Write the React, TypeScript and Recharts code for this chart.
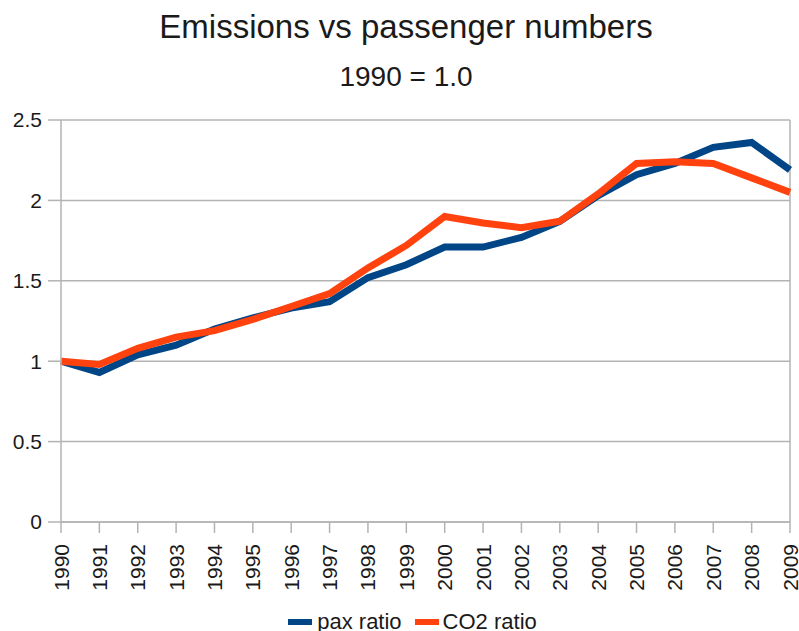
import React from 'react';
import {
  LineChart,
  Line,
  XAxis,
  YAxis,
  CartesianGrid,
  Legend,
  ReferenceLine,
} from 'recharts';

const years = [
  '1990', '1991', '1992', '1993', '1994', '1995', '1996', '1997', '1998', '1999',
  '2000', '2001', '2002', '2003', '2004', '2005', '2006', '2007', '2008', '2009',
];

const paxRatio = [
  1.0, 0.93, 1.04, 1.1, 1.2, 1.27, 1.33, 1.37, 1.52, 1.6,
  1.71, 1.71, 1.77, 1.87, 2.03, 2.16, 2.23, 2.33, 2.36, 2.19,
];

const co2Ratio = [
  1.0, 0.98, 1.08, 1.15, 1.19, 1.26, 1.34, 1.42, 1.58, 1.72,
  1.9, 1.86, 1.83, 1.87, 2.04, 2.23, 2.24, 2.23, 2.14, 2.05,
];

const yTicks = [0, 0.5, 1, 1.5, 2, 2.5];

const data = years.map((year, i) => ({
  year,
  pax: paxRatio[i],
  co2: co2Ratio[i],
}));

const FONT = '"Liberation Sans", Arial, sans-serif';
const PAX_COLOR = '#004586';
const CO2_COLOR = '#ff420e';
const GRID_COLOR = '#b3b3b3';
const TEXT_COLOR = '#1a1a1a';

const YearTick = (props: any) => {
  const { x, y, payload } = props;
  return (
    <text
      x={x}
      y={y + 9}
      transform={`rotate(-90, ${x}, ${y + 9})`}
      textAnchor="end"
      dominantBaseline="central"
      fontSize={21}
      fontFamily={FONT}
      fill={TEXT_COLOR}
    >
      {payload.value}
    </text>
  );
};

const LegendContent = () => (
  <div
    style={{
      display: 'flex',
      justifyContent: 'center',
      alignItems: 'center',
      fontFamily: FONT,
      fontSize: 22,
      color: TEXT_COLOR,
      height: 30,
      paddingLeft: 26,
    }}
  >
    <span style={{ width: 24, height: 6, background: PAX_COLOR, marginRight: 5 }} />
    <span style={{ marginRight: 13 }}>pax ratio</span>
    <span style={{ width: 24, height: 6, background: CO2_COLOR, marginRight: 4 }} />
    <span>CO2 ratio</span>
  </div>
);

export default function App() {
  return (
    <div
      style={{
        position: 'absolute',
        left: 0,
        top: 0,
        width: 799,
        height: 631,
        background: '#fff',
        overflow: 'hidden',
      }}
    >
      <div
        style={{
          position: 'absolute',
          left: 0,
          width: 812,
          top: 8,
          textAlign: 'center',
          fontFamily: FONT,
          fontSize: 33,
          color: TEXT_COLOR,
        }}
      >
        Emissions vs passenger numbers
      </div>
      <div
        style={{
          position: 'absolute',
          left: 0,
          width: 812,
          top: 61,
          textAlign: 'center',
          fontFamily: FONT,
          fontSize: 28,
          color: TEXT_COLOR,
        }}
      >
        1990 = 1.0
      </div>
      <LineChart
        width={799}
        height={631}
        data={data}
        margin={{ top: 120, right: 9, left: 0, bottom: 0 }}
      >
        <CartesianGrid vertical={false} stroke={GRID_COLOR} strokeWidth={1.5} />
        <XAxis
          dataKey="year"
          interval={0}
          height={79}
          tick={<YearTick />}
          tickSize={11}
          axisLine={{ stroke: GRID_COLOR, strokeWidth: 1.5 }}
          tickLine={{ stroke: GRID_COLOR, strokeWidth: 1.5 }}
        />
        <YAxis
          width={61}
          domain={[0, 2.5]}
          ticks={yTicks}
          tickSize={13}
          tickMargin={6}
          tick={{ fontSize: 21, fontFamily: FONT, fill: TEXT_COLOR }}
          axisLine={{ stroke: GRID_COLOR, strokeWidth: 1.5 }}
          tickLine={{ stroke: GRID_COLOR, strokeWidth: 1.5 }}
        />
        <ReferenceLine x="2009" stroke={GRID_COLOR} strokeWidth={1.5} />
        <Legend
          verticalAlign="bottom"
          height={30}
          wrapperStyle={{ top: 607, left: 0, width: 799, bottom: 'auto' }}
          content={<LegendContent />}
        />
        <Line
          type="linear"
          dataKey="pax"
          name="pax ratio"
          stroke={PAX_COLOR}
          strokeWidth={7}
          dot={false}
          isAnimationActive={false}
        />
        <Line
          type="linear"
          dataKey="co2"
          name="CO2 ratio"
          stroke={CO2_COLOR}
          strokeWidth={7}
          dot={false}
          isAnimationActive={false}
        />
      </LineChart>
    </div>
  );
}
